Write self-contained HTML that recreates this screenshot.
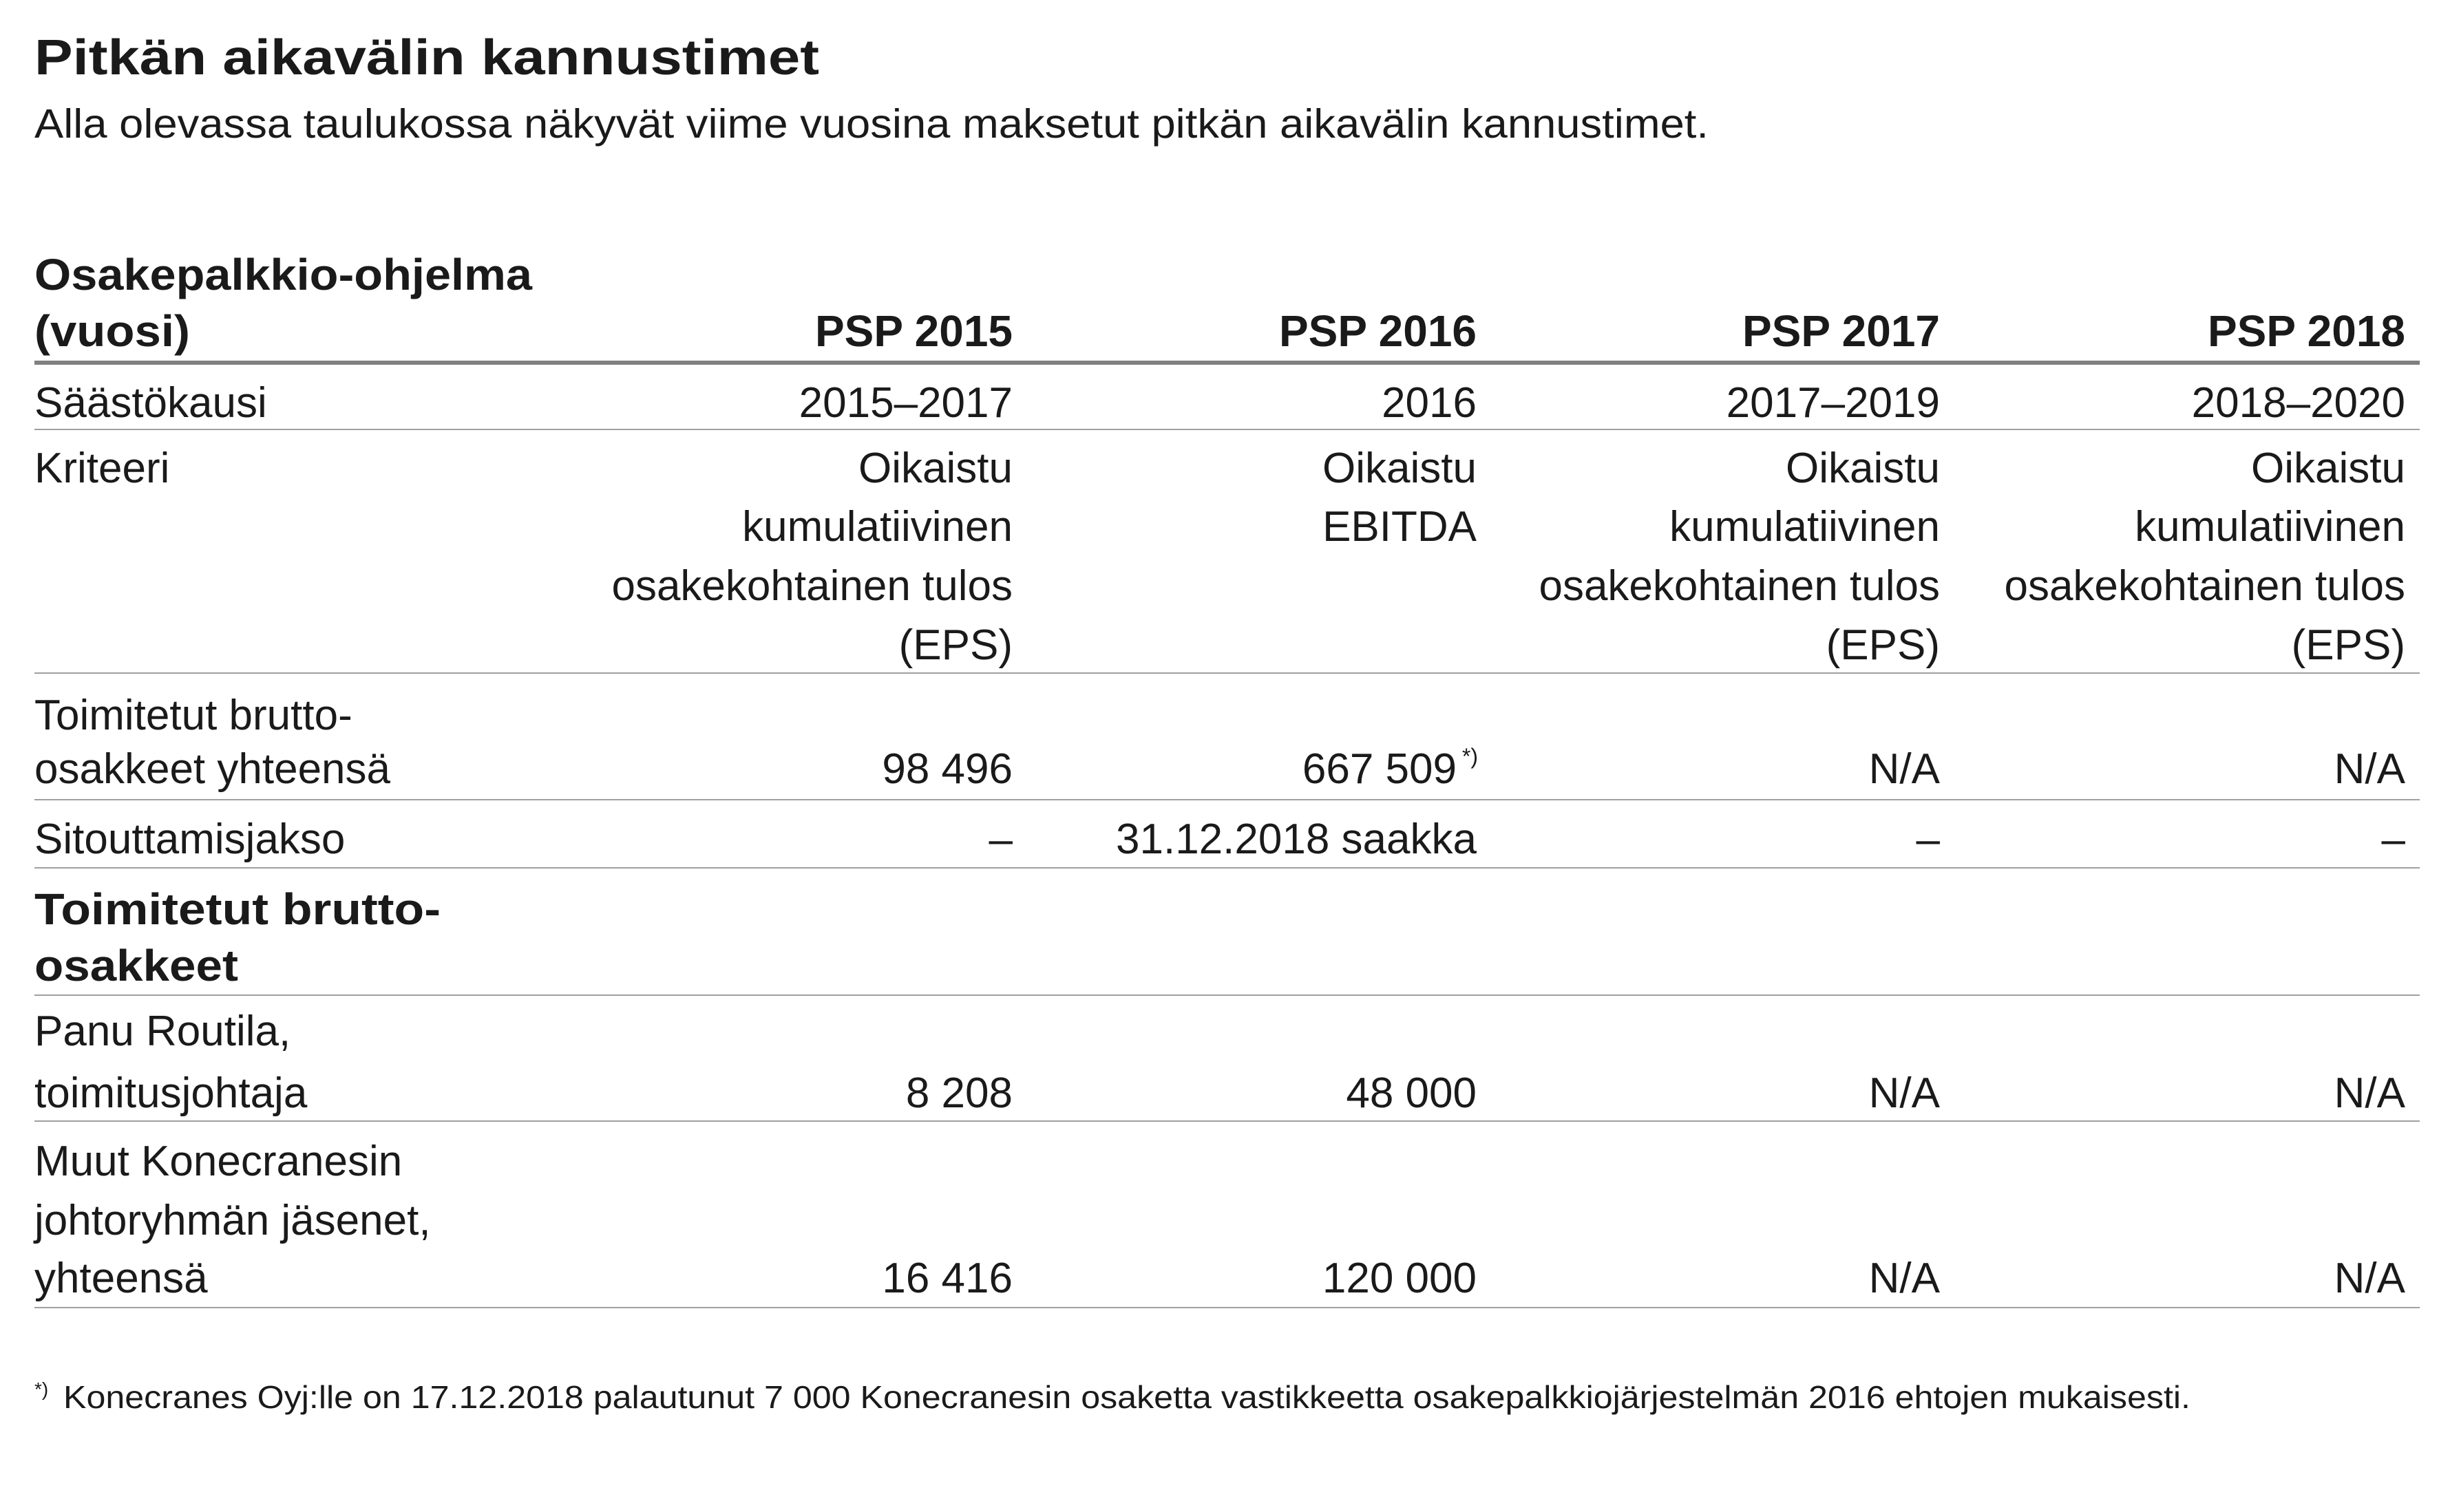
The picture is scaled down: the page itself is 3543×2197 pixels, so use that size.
<!DOCTYPE html>
<html><head><meta charset="utf-8"><style>
html,body{margin:0;padding:0;background:#fff;}
svg{display:block;}
text{font-family:"Liberation Sans",sans-serif;fill:#1a1a1a;font-size:62px;}
.b{font-weight:bold;font-size:64px;}
.r{text-anchor:end;}
</style></head><body>
<svg width="3543" height="2197" viewBox="0 0 3543 2197" xmlns="http://www.w3.org/2000/svg">
<text x="50" y="108" class="b" style="font-size:72px" textLength="1140" lengthAdjust="spacingAndGlyphs">Pitkän aikavälin kannustimet</text>
<text x="50" y="200" style="font-size:59px" textLength="2432" lengthAdjust="spacingAndGlyphs">Alla olevassa taulukossa näkyvät viime vuosina maksetut pitkän aikavälin kannustimet.</text>

<text x="50" y="421" class="b" textLength="723" lengthAdjust="spacingAndGlyphs">Osakepalkkio-ohjelma</text>
<text x="50" y="503" class="b" textLength="226" lengthAdjust="spacingAndGlyphs">(vuosi)</text>
<text x="1471" y="503" class="b r">PSP 2015</text>
<text x="2145" y="503" class="b r">PSP 2016</text>
<text x="2818" y="503" class="b r">PSP 2017</text>
<text x="3494" y="503" class="b r">PSP 2018</text>
<rect x="50" y="524" width="3465" height="6" fill="#808080"/>

<text x="50" y="606">Säästökausi</text>
<text x="1471" y="606" class="r">2015–2017</text>
<text x="2145" y="606" class="r">2016</text>
<text x="2818" y="606" class="r">2017–2019</text>
<text x="3494" y="606" class="r">2018–2020</text>
<rect x="50" y="623" width="3465" height="2" fill="#a0a0a0"/>

<text x="50" y="701">Kriteeri</text>
<text x="1471" y="701" class="r">Oikaistu</text>
<text x="1471" y="786" class="r">kumulatiivinen</text>
<text x="1471" y="872" class="r">osakekohtainen tulos</text>
<text x="1471" y="958" class="r">(EPS)</text>
<text x="2145" y="701" class="r">Oikaistu</text>
<text x="2145" y="786" class="r">EBITDA</text>
<text x="2818" y="701" class="r">Oikaistu</text>
<text x="2818" y="786" class="r">kumulatiivinen</text>
<text x="2818" y="872" class="r">osakekohtainen tulos</text>
<text x="2818" y="958" class="r">(EPS)</text>
<text x="3494" y="701" class="r">Oikaistu</text>
<text x="3494" y="786" class="r">kumulatiivinen</text>
<text x="3494" y="872" class="r">osakekohtainen tulos</text>
<text x="3494" y="958" class="r">(EPS)</text>
<rect x="50" y="977" width="3465" height="2" fill="#a0a0a0"/>

<text x="50" y="1060">Toimitetut brutto-</text>
<text x="50" y="1138">osakkeet yhteensä</text>
<text x="1471" y="1138" class="r">98 496</text>
<text x="2116" y="1138" class="r">667 509</text>
<text x="2147" y="1110" class="r" style="font-size:32px">*)</text>
<text x="2818" y="1138" class="r">N/A</text>
<text x="3494" y="1138" class="r">N/A</text>
<rect x="50" y="1161" width="3465" height="2" fill="#a0a0a0"/>

<text x="50" y="1240">Sitouttamisjakso</text>
<text x="1471" y="1240" class="r">–</text>
<text x="2145" y="1240" class="r">31.12.2018 saakka</text>
<text x="2818" y="1240" class="r">–</text>
<text x="3494" y="1240" class="r">–</text>
<rect x="50" y="1260" width="3465" height="2" fill="#a0a0a0"/>

<text x="50" y="1343" class="b" textLength="590" lengthAdjust="spacingAndGlyphs">Toimitetut brutto-</text>
<text x="50" y="1425" class="b" textLength="296" lengthAdjust="spacingAndGlyphs">osakkeet</text>
<rect x="50" y="1445" width="3465" height="2" fill="#a0a0a0"/>

<text x="50" y="1519">Panu Routila,</text>
<text x="50" y="1609">toimitusjohtaja</text>
<text x="1471" y="1609" class="r">8 208</text>
<text x="2145" y="1609" class="r">48 000</text>
<text x="2818" y="1609" class="r">N/A</text>
<text x="3494" y="1609" class="r">N/A</text>
<rect x="50" y="1628" width="3465" height="2" fill="#a0a0a0"/>

<text x="50" y="1708">Muut Konecranesin</text>
<text x="50" y="1794">johtoryhmän jäsenet,</text>
<text x="50" y="1878">yhteensä</text>
<text x="1471" y="1878" class="r">16 416</text>
<text x="2145" y="1878" class="r">120 000</text>
<text x="2818" y="1878" class="r">N/A</text>
<text x="3494" y="1878" class="r">N/A</text>
<rect x="50" y="1899" width="3465" height="2" fill="#a0a0a0"/>

<text x="50" y="2028" style="font-size:28px">*)</text>
<text x="92" y="2046" style="font-size:46px" textLength="3090" lengthAdjust="spacingAndGlyphs">Konecranes Oyj:lle on 17.12.2018 palautunut 7 000 Konecranesin osaketta vastikkeetta osakepalkkiojärjestelmän 2016 ehtojen mukaisesti.</text>
</svg>
</body></html>
